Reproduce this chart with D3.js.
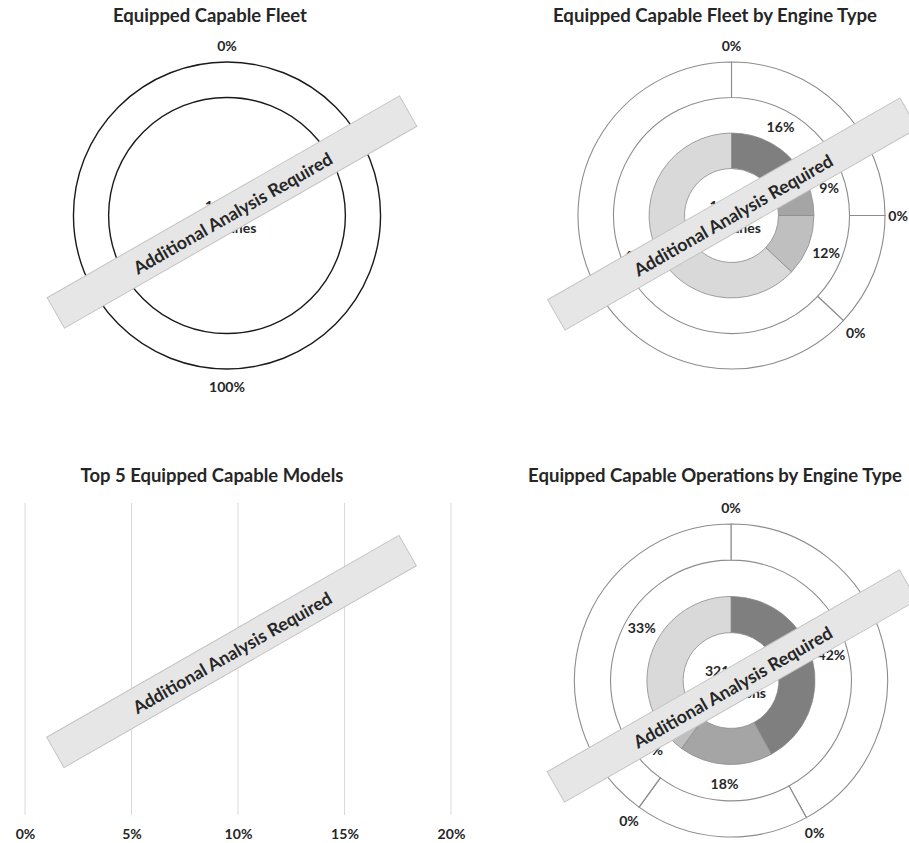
<!DOCTYPE html>
<html>
<head>
<meta charset="utf-8">
<script src="https://cdn.jsdelivr.net/npm/d3@7"></script>
<style>
  html, body { margin: 0; padding: 0; background: #fff; }
  svg { display: block; }
  text { font-family: Lato, "Open Sans", "DejaVu Sans", sans-serif; font-weight: bold; fill: #262626; }
</style>
</head>
<body>
<svg id="chart" width="909" height="843"></svg>
<script>
// ---------------- DATA ----------------
const chartTitles = [
  "Equipped Capable Fleet",
  "Equipped Capable Fleet by Engine Type",
  "Top 5 Equipped Capable Models",
  "Equipped Capable Operations by Engine Type"
];

// Panel 1: fleet split (outer ring)
const fleetSplitLabels = ["Equipped Capable", "Not Equipped Capable"];
const fleetSplitValues = [0, 100];
const fleetCenterText = ["10,482", "Airplanes"];

// Panel 2: fleet by engine type
const engineTypes = ["Engine Type 1", "Engine Type 2", "Engine Type 3", "Engine Type 4"];
const fleetByEngine = [16, 9, 12, 63];
const fleetGroupShare = [25, 12, 63];      // outer ring groups
const fleetGroupEquipped = [0, 0, 0];      // equipped capable share per group

// Panel 3: top 5 models (no bars available)
const topModels = [];
const topModelValues = [];
const xTicks = [0, 0.05, 0.10, 0.15, 0.20];

// Panel 4: operations by engine type
const opsByEngine = [42, 18, 7, 33];
const opsGroupShare = [42, 18, 40];
const opsGroupEquipped = [0, 0, 0];
const opsCenterText = ["321,456", "Operations"];

const greyShades = ["#7f7f7f", "#a5a5a5", "#bfbfbf", "#d9d9d9"];
const bannerText = "Additional Analysis Required";

// ---------------- DRAW ----------------
const W = 909;
const svg = d3.select("#chart");
const pie = d3.pie().sort(null).value(d => d.value);

function fitWidth(sel, target) {
  const w = sel.node().getComputedTextLength();
  const fs = parseFloat(sel.attr("font-size"));
  sel.attr("font-size", fs * target / w);
  return fs * target / w;
}

function title(text, cx, y, width) {
  const t = svg.append("text").attr("x", cx).attr("y", y)
    .attr("text-anchor", "middle").attr("font-size", 16).text(text);
  fitWidth(t, width);
}

// reference label font size
const probe = svg.append("text").attr("font-size", 14).text("100%");
const labelFS = fitWidth(probe, 36);
probe.remove();

function label(g, cx, text, x, y) {
  const t = g.append("text").attr("x", x).attr("y", y)
    .attr("text-anchor", "middle").attr("dominant-baseline", "central")
    .attr("font-size", labelFS).text(text);
  const w = t.node().getComputedTextLength();
  if (cx + x + w / 2 > W - 1) t.attr("x", W - 1 - cx - w / 2);
}

function centerText(g, lines) {
  g.append("text").attr("x", 0).attr("y", -10).attr("text-anchor", "middle")
    .attr("dominant-baseline", "central").attr("font-size", labelFS).text(lines[0]);
  g.append("text").attr("x", 0).attr("y", 12).attr("text-anchor", "middle")
    .attr("dominant-baseline", "central").attr("font-size", labelFS).text(lines[1]);
}

function outerRingData(shares, equipped) {
  const out = [];
  shares.forEach((s, i) => {
    out.push({ value: equipped[i], labelled: true });
    out.push({ value: s - equipped[i], labelled: false });
  });
  return out;
}

function donutPanel(cx, cy, R, inner, outer, outerStroke, outerStrokeW, center) {
  const g = svg.append("g").attr("transform", `translate(${cx},${cy})`);
  const rOuterIn = R * 0.769, rMid = R * 0.537, rHole = R * 0.306;

  // outer ring
  const outerArc = d3.arc().innerRadius(rOuterIn).outerRadius(R);
  const oArcs = pie(outer.data);
  g.selectAll("path.outer").data(oArcs).join("path").attr("class", "outer")
    .attr("d", outerArc).attr("fill", "#fff")
    .attr("stroke", outerStroke).attr("stroke-width", outerStrokeW);

  // inner ring (engine types)
  if (inner) {
    const innerArc = d3.arc().innerRadius(rHole).outerRadius(rMid);
    const iArcs = pie(inner.map((v, i) => ({ value: v, i })));
    g.selectAll("path.inner").data(iArcs).join("path").attr("class", "inner")
      .attr("d", innerArc).attr("fill", d => greyShades[d.data.i])
      .attr("stroke", "#8a8a8a").attr("stroke-width", 0.8);
    // labels in middle (invisible) ring
    const lr = (rMid + rOuterIn) / 2 + 1.5;
    iArcs.forEach(a => {
      const ang = (a.startAngle + a.endAngle) / 2;
      label(g, cx, Math.round(a.data.value) + "%", lr * Math.sin(ang), -lr * Math.cos(ang));
    });
  }

  // outer labels
  const olr = R + 17;
  oArcs.forEach(a => {
    if (!a.data.labelled) return;
    const ang = (a.startAngle + a.endAngle) / 2;
    label(g, cx, Math.round(a.data.value) + "%", olr * Math.sin(ang), -olr * Math.cos(ang));
  });

  centerText(g, center);
  return g;
}

function banner(cx, cy) {
  const g = svg.append("g").attr("transform", `translate(${cx},${cy}) rotate(-29.8)`);
  g.append("rect").attr("x", -203).attr("y", -17.5).attr("width", 406).attr("height", 35)
    .attr("fill", "#e6e6e6").attr("stroke", "#c4c4c4").attr("stroke-width", 1);
  const t = g.append("text").attr("x", 0).attr("y", 1).attr("text-anchor", "middle")
    .attr("dominant-baseline", "central").attr("font-size", 16).attr("fill", "#1e1e1e")
    .text(bannerText);
  fitWidth(t, 226);
}

// Titles
title(chartTitles[0], 210, 22, 194);
title(chartTitles[1], 715, 22, 324);
title(chartTitles[2], 212, 482, 263);
title(chartTitles[3], 715, 482, 374);

// Panel 1
donutPanel(227, 215.5, 153.5, null,
  { data: fleetSplitValues.map(v => ({ value: v, labelled: true })) },
  "#1a1a1a", 1.4, fleetCenterText);

// Panel 2
donutPanel(731.5, 215.5, 153.5, fleetByEngine,
  { data: outerRingData(fleetGroupShare, fleetGroupEquipped) },
  "#8c8c8c", 1.1, fleetCenterText);

// Panel 3: bar chart frame with gridlines
const x = d3.scaleLinear().domain([0, 0.2]).range([25, 451]);
const y = d3.scaleBand().domain(topModels).range([503, 815]).padding(0.3);
svg.append("g").selectAll("line").data(xTicks).join("line")
  .attr("x1", d => x(d)).attr("x2", d => x(d)).attr("y1", 503).attr("y2", 815)
  .attr("stroke", "#d9d9d9").attr("stroke-width", 1);
svg.append("g").selectAll("rect").data(topModelValues).join("rect")
  .attr("x", x(0)).attr("y", (d, i) => y(topModels[i])).attr("width", d => x(d) - x(0))
  .attr("height", y.bandwidth()).attr("fill", "#7f7f7f");
const xAxis = d3.axisBottom(x).tickValues(xTicks).tickFormat(d3.format(".0%")).tickSize(0);
const ax = svg.append("g").attr("transform", "translate(0,826)").call(xAxis);
ax.select(".domain").remove();
ax.selectAll("text").attr("font-size", labelFS).attr("fill", "#262626")
  .attr("font-family", "Lato, 'Open Sans', sans-serif").attr("font-weight", "bold");

// Panel 4
donutPanel(731, 680.5, 156.5, opsByEngine,
  { data: outerRingData(opsGroupShare, opsGroupEquipped) },
  "#8c8c8c", 1.1, opsCenterText);

// Banners
banner(232, 212);
banner(732.5, 214);
banner(231.5, 651.5);
banner(732, 686);
</script>
</body>
</html>
